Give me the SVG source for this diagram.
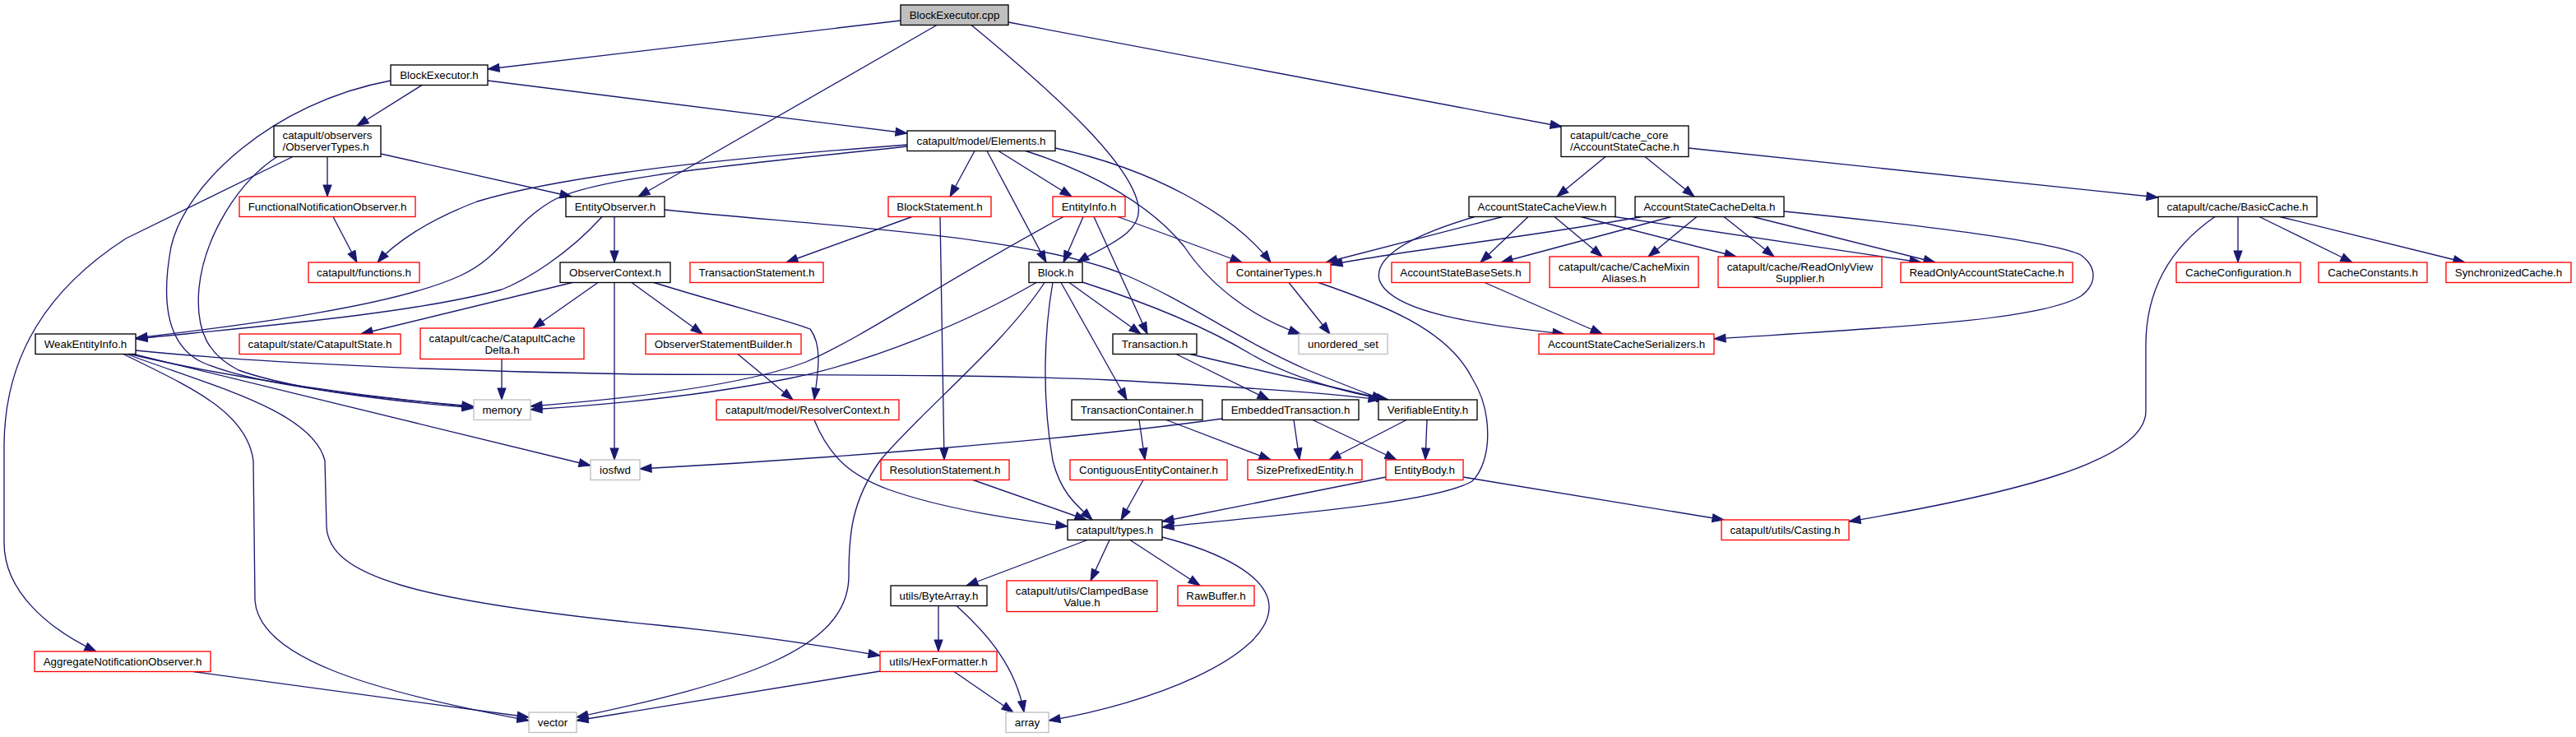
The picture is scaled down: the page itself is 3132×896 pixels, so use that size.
<svg xmlns="http://www.w3.org/2000/svg" width="3132" height="896" viewBox="0 0 3132 896">
<style>
.n rect{fill:#fff;stroke:#000;stroke-width:1.33}
.n.r rect{stroke:#f00}
.n.g rect{stroke:#bfbfbf}
.n.root rect{fill:#bfbfbf}
text{font-family:"Liberation Sans",Arial,sans-serif;font-size:13.33px;text-anchor:middle;fill:#000}
text.l{text-anchor:start}
#edges path{fill:none;stroke:#191970;stroke-width:1.33;marker-end:url(#a)}
</style>
<defs>
<marker id="a" markerUnits="userSpaceOnUse" markerWidth="14" markerHeight="10" viewBox="0 0 13.3 9.4" refX="13.3" refY="4.7" orient="auto" overflow="visible">
<path d="M0,0 L13.3,4.7 L0,9.4 z" fill="#191970" stroke="#191970" stroke-width="1"/>
</marker>
</defs>
<rect width="3132" height="896" fill="#fff"/>
<g id="edges">
<path d="M1095,25 L593,84"/>
<path d="M1139,30.5 L776,239"/>
<path d="M1181,30.5 C1290,120 1375,200 1384,250 C1390,285 1340,300 1310,319"/>
<path d="M1226,27 L1899,154"/>
<path d="M475,98 C330,125 225,225 208,300 C195,370 205,420 245,440 C310,470 470,485 576,494"/>
<path d="M337,190.5 C288,222 248,290 242,350 C237,405 255,432 290,450 C360,475 480,488 576,496"/>
<path d="M593,98 L1103,162"/>
<path d="M513,103.5 L434,153"/>
<path d="M398,190.5 L398,239"/>
<path d="M463,187 L695,239"/>
<path d="M356,190.5 L153,290 C60,350 6,430 5,540 L5,660 C5,720 60,765 117,792"/>
<path d="M405,263.5 L434,319"/>
<path d="M1103,176 C850,195 680,215 580,245 C520,268 480,295 459,319"/>
<path d="M1103,178 C900,200 720,215 670,245 C620,275 610,312 560,335 C480,372 300,395 165,411"/>
<path d="M732,263.5 C690,310 640,340 610,352 C500,382 300,398 165,412"/>
<path d="M747,263.5 L747,319"/>
<path d="M808,255 C1000,275 1250,285 1370,335 C1450,370 1500,410 1590,450 C1640,470 1665,480 1682,486"/>
<path d="M1185,183.5 L1155,239"/>
<path d="M1200,183.5 L1272,319"/>
<path d="M1214,183.5 L1303,239"/>
<path d="M1283,180 C1400,205 1500,260 1545,319"/>
<path d="M1247,183.5 C1330,210 1400,250 1440,300 C1470,345 1520,385 1581,406"/>
<path d="M1109,263.5 L956,319"/>
<path d="M1143,263.5 C1145,400 1147,480 1148,559"/>
<path d="M1293,263.5 C1150,340 1050,410 980,440 C900,470 760,485 645,494"/>
<path d="M1317,263.5 L1293,319"/>
<path d="M1330,263.5 L1395,406"/>
<path d="M1359,263.5 L1510,319"/>
<path d="M1260,343.5 C1180,390 1060,440 960,460 C860,480 740,492 645,498"/>
<path d="M1300,343.5 L1387,406"/>
<path d="M1290,343.5 L1370,486"/>
<path d="M1280,343.5 C1270,400 1266,480 1280,560 C1290,600 1310,615 1328,632"/>
<path d="M1270,343.5 C1220,420 1120,500 1070,560 C1035,610 1032,650 1032,700 C1032,790 900,830 701,872"/>
<path d="M1316,343 C1400,370 1470,400 1520,430 C1570,460 1640,478 1688,486"/>
<path d="M1430,430.5 L1543,486"/>
<path d="M1447,430.5 C1550,455 1630,472 1684,486"/>
<path d="M165,426 C300,440 550,452 780,455 C1000,456 1200,455 1350,462 C1500,470 1620,478 1678,486"/>
<path d="M158,430.5 C280,460 450,483 576,495"/>
<path d="M162,430.5 L718,566"/>
<path d="M150,430.5 C230,470 300,500 308,560 L310,730 C315,800 450,840 643,876"/>
<path d="M154,430.5 C260,470 380,500 395,560 L397,640 C400,700 500,730 800,760 C900,770 1000,785 1070,797"/>
<path d="M696,343.5 L439,406"/>
<path d="M727,343.5 L648,399"/>
<path d="M747,343.5 L747,559"/>
<path d="M768,343.5 L854,406"/>
<path d="M795,343.5 C880,370 960,390 985,400 C1000,420 995,450 990,486"/>
<path d="M897,430.5 L964,486"/>
<path d="M610,436.5 L610,486"/>
<path d="M990,510.5 C1010,560 1040,580 1080,595 C1150,620 1240,632 1298,640"/>
<path d="M1183,583.5 L1321,632"/>
<path d="M1390,583.5 L1363,632"/>
<path d="M1385,510.5 L1392,559"/>
<path d="M1418,510.5 L1545,559"/>
<path d="M1486,509 C1300,535 1000,558 778,570"/>
<path d="M1573,510.5 L1580,559"/>
<path d="M1596,510.5 L1698,559"/>
<path d="M1710,510.5 L1616,559"/>
<path d="M1735,510.5 L1733,559"/>
<path d="M1685,580 L1413,634"/>
<path d="M1779,580 L2096,632"/>
<path d="M1567,343.5 L1617,406"/>
<path d="M1603,343.5 C1680,370 1760,400 1790,460 C1815,500 1815,560 1790,585 C1740,615 1500,630 1413,641"/>
<path d="M1322,656.5 L1175,712"/>
<path d="M1349,656.5 L1326,706"/>
<path d="M1374,656.5 L1459,712"/>
<path d="M1413,653 C1480,670 1545,700 1543,740 C1540,800 1400,855 1275,876"/>
<path d="M1141,736.5 L1141,792"/>
<path d="M1163,736.5 C1200,770 1235,810 1245,866"/>
<path d="M1160,816.5 L1232,866"/>
<path d="M1070,816 L701,876"/>
<path d="M235,816.5 L643,872"/>
<path d="M1952,190.5 L1893,239"/>
<path d="M2000,190.5 L2060,239"/>
<path d="M2053,180 L2624,240"/>
<path d="M1793,263.5 C1720,285 1670,310 1677,340 C1690,380 1800,395 1902,406"/>
<path d="M1827,263.5 L1612,319"/>
<path d="M1858,263.5 L1800,319"/>
<path d="M1890,263.5 L1948,312"/>
<path d="M1922,263.5 L2111,312"/>
<path d="M1963,263.5 L2336,319"/>
<path d="M1996,263.5 C1850,290 1700,305 1618,322"/>
<path d="M2032,263.5 L1825,319"/>
<path d="M2063,263.5 L2004,312"/>
<path d="M2096,263.5 L2157,312"/>
<path d="M2131,263.5 L2353,319"/>
<path d="M2169,257 C2350,275 2500,295 2530,310 C2550,325 2550,345 2530,360 C2480,390 2300,398 2084,412"/>
<path d="M1805,343.5 L1948,406"/>
<path d="M2693,263.5 C2640,300 2609,350 2609,420 L2609,500 C2609,560 2450,600 2248,634"/>
<path d="M2721,263.5 L2721,319"/>
<path d="M2747,263.5 L2860,319"/>
<path d="M2772,263.5 L2997,319"/>
</g>
<g id="cpp" class="n root"><rect x="1095" y="6" width="131" height="24.5"/><text x="1160.5" y="23">BlockExecutor.cpp</text></g>
<g id="beh" class="n"><rect x="475" y="79" width="118" height="24.5"/><text x="534" y="96">BlockExecutor.h</text></g>
<g id="obs" class="n"><rect x="333" y="153" width="130" height="37.5"/><text class="l" x="343.5" y="169">catapult/observers</text><text class="l" x="343.5" y="182.5">/ObserverTypes.h</text></g>
<g id="elem" class="n"><rect x="1103" y="159" width="180" height="24.5"/><text x="1193" y="176">catapult/model/Elements.h</text></g>
<g id="ascache" class="n"><rect x="1898" y="153" width="155" height="37.5"/><text class="l" x="1909" y="169">catapult/cache_core</text><text class="l" x="1909" y="182.5">/AccountStateCache.h</text></g>
<g id="fno" class="n r"><rect x="291" y="239" width="214" height="24.5"/><text x="398" y="256">FunctionalNotificationObserver.h</text></g>
<g id="eobs" class="n"><rect x="688" y="239" width="120" height="24.5"/><text x="748" y="256">EntityObserver.h</text></g>
<g id="bstmt" class="n r"><rect x="1080" y="239" width="125" height="24.5"/><text x="1142.5" y="256">BlockStatement.h</text></g>
<g id="einfo" class="n r"><rect x="1280" y="239" width="88" height="24.5"/><text x="1324" y="256">EntityInfo.h</text></g>
<g id="asview" class="n"><rect x="1786" y="239" width="178" height="24.5"/><text x="1875" y="256">AccountStateCacheView.h</text></g>
<g id="asdelta" class="n"><rect x="1988" y="239" width="181" height="24.5"/><text x="2078.5" y="256">AccountStateCacheDelta.h</text></g>
<g id="basic" class="n"><rect x="2624" y="239" width="193" height="24.5"/><text x="2720.5" y="256">catapult/cache/BasicCache.h</text></g>
<g id="func" class="n r"><rect x="375" y="319" width="135" height="24.5"/><text x="442.5" y="336">catapult/functions.h</text></g>
<g id="octx" class="n"><rect x="681" y="319" width="134" height="24.5"/><text x="748" y="336">ObserverContext.h</text></g>
<g id="tstmt" class="n r"><rect x="839" y="319" width="162" height="24.5"/><text x="920" y="336">TransactionStatement.h</text></g>
<g id="block" class="n"><rect x="1251" y="319" width="65" height="24.5"/><text x="1283.5" y="336">Block.h</text></g>
<g id="ctypes" class="n r"><rect x="1492" y="319" width="126" height="24.5"/><text x="1555" y="336">ContainerTypes.h</text></g>
<g id="basesets" class="n r"><rect x="1692" y="319" width="168" height="24.5"/><text x="1776" y="336">AccountStateBaseSets.h</text></g>
<g id="mixin" class="n r"><rect x="1884" y="312" width="181" height="37.5"/><text x="1974.5" y="329">catapult/cache/CacheMixin</text><text x="1974.5" y="342.5">Aliases.h</text></g>
<g id="rovs" class="n r"><rect x="2089" y="312" width="199" height="37.5"/><text x="2188.5" y="329">catapult/cache/ReadOnlyView</text><text x="2188.5" y="342.5">Supplier.h</text></g>
<g id="roasc" class="n r"><rect x="2311" y="319" width="209" height="24.5"/><text x="2415.5" y="336">ReadOnlyAccountStateCache.h</text></g>
<g id="cconf" class="n r"><rect x="2646" y="319" width="151" height="24.5"/><text x="2721.5" y="336">CacheConfiguration.h</text></g>
<g id="cconst" class="n r"><rect x="2819" y="319" width="132" height="24.5"/><text x="2885" y="336">CacheConstants.h</text></g>
<g id="sync" class="n r"><rect x="2974" y="319" width="152" height="24.5"/><text x="3050" y="336">SynchronizedCache.h</text></g>
<g id="weak" class="n"><rect x="43" y="406" width="122" height="24.5"/><text x="104" y="423">WeakEntityInfo.h</text></g>
<g id="cstate" class="n r"><rect x="291" y="406" width="196" height="24.5"/><text x="389" y="423">catapult/state/CatapultState.h</text></g>
<g id="ccdelta" class="n r"><rect x="511" y="399" width="199" height="37.5"/><text x="610.5" y="416">catapult/cache/CatapultCache</text><text x="610.5" y="429.5">Delta.h</text></g>
<g id="osb" class="n r"><rect x="785" y="406" width="189" height="24.5"/><text x="879.5" y="423">ObserverStatementBuilder.h</text></g>
<g id="tx" class="n"><rect x="1353" y="406" width="102" height="24.5"/><text x="1404" y="423">Transaction.h</text></g>
<g id="uset" class="n g"><rect x="1579" y="406" width="108" height="24.5"/><text x="1633" y="423">unordered_set</text></g>
<g id="ser" class="n r"><rect x="1871" y="406" width="213" height="24.5"/><text x="1977.5" y="423">AccountStateCacheSerializers.h</text></g>
<g id="memory" class="n g"><rect x="576" y="486" width="69" height="24.5"/><text x="610.5" y="503">memory</text></g>
<g id="rctx" class="n r"><rect x="871" y="486" width="222" height="24.5"/><text x="982" y="503">catapult/model/ResolverContext.h</text></g>
<g id="tcont" class="n"><rect x="1303" y="486" width="159" height="24.5"/><text x="1382.5" y="503">TransactionContainer.h</text></g>
<g id="etx" class="n"><rect x="1486" y="486" width="166" height="24.5"/><text x="1569" y="503">EmbeddedTransaction.h</text></g>
<g id="ver" class="n"><rect x="1676" y="486" width="120" height="24.5"/><text x="1736" y="503">VerifiableEntity.h</text></g>
<g id="iosfwd" class="n g"><rect x="718" y="559" width="60" height="24.5"/><text x="748" y="576">iosfwd</text></g>
<g id="rstmt" class="n r"><rect x="1071" y="559" width="156" height="24.5"/><text x="1149" y="576">ResolutionStatement.h</text></g>
<g id="cec" class="n r"><rect x="1301" y="559" width="191" height="24.5"/><text x="1396.5" y="576">ContiguousEntityContainer.h</text></g>
<g id="spe" class="n r"><rect x="1517" y="559" width="139" height="24.5"/><text x="1586.5" y="576">SizePrefixedEntity.h</text></g>
<g id="ebody" class="n r"><rect x="1685" y="559" width="94" height="24.5"/><text x="1732" y="576">EntityBody.h</text></g>
<g id="types" class="n"><rect x="1298" y="632" width="115" height="24.5"/><text x="1355.5" y="649">catapult/types.h</text></g>
<g id="casting" class="n r"><rect x="2093" y="632" width="155" height="24.5"/><text x="2170.5" y="649">catapult/utils/Casting.h</text></g>
<g id="bytearr" class="n"><rect x="1083" y="712" width="117" height="24.5"/><text x="1141.5" y="729">utils/ByteArray.h</text></g>
<g id="clamped" class="n r"><rect x="1224" y="706" width="183" height="37.5"/><text x="1315.5" y="723">catapult/utils/ClampedBase</text><text x="1315.5" y="736.5">Value.h</text></g>
<g id="rawbuf" class="n r"><rect x="1432" y="712" width="93" height="24.5"/><text x="1478.5" y="729">RawBuffer.h</text></g>
<g id="agg" class="n r"><rect x="42" y="792" width="214" height="24.5"/><text x="149" y="809">AggregateNotificationObserver.h</text></g>
<g id="hexf" class="n r"><rect x="1070" y="792" width="142" height="24.5"/><text x="1141" y="809">utils/HexFormatter.h</text></g>
<g id="vector" class="n g"><rect x="643" y="866" width="58" height="24.5"/><text x="672" y="883">vector</text></g>
<g id="array" class="n g"><rect x="1223" y="866" width="52" height="24.5"/><text x="1249" y="883">array</text></g>
</svg>
